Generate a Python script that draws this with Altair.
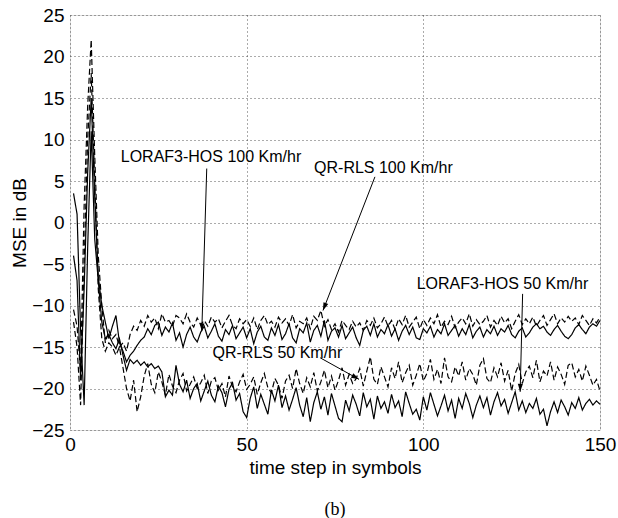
import math
import altair as alt
import pandas as pd

# ---- data ----
steps = list(range(1, 151))

qr_rls_100 = [
    -10.5, -12.5, -18, 2, 14, 22, 8, -4, -10, -14.5,
    -13, -14, -13.5, -15, -14.5, -15.5, -13.5, -12.5, -13, -11.8,
    -12.5, -11.2, -12, -11.5, -12.8, -11, -12, -11.8, -12.5, -11.2,
    -11.5, -12.2, -11, -12, -12.6, -11.5, -12.3, -11.8, -12.5, -11.4,
    -12, -11.6, -12.7, -11.9, -11.2, -12.4, -12.8, -11.6, -12.2, -11.7,
    -12.5, -11.5, -12.9, -11.8, -11.2, -12.3, -11.9, -12.6, -11.4, -12.1,
    -11.6, -12.4, -11.1, -12.7, -11.9, -12.2, -11.5, -12.8, -11.3, -11.8,
    -10.6, -12.5, -11.7, -12.9, -12.2, -13.2, -11.8, -12.4, -12.9, -11.9,
    -12.6, -12.1, -13, -11.8, -12.4, -11.5, -12.7, -12.2, -11.4, -12.5,
    -11.8, -12.9, -11.6, -12.3, -11.2, -12.6, -12, -11.4, -12.8, -11.7,
    -12.4, -11.5, -12.2, -11.1, -12.6, -11.9, -12.3, -11.3, -12.7, -12,
    -11.5, -12.2, -11, -12.5, -11.7, -12.3, -11.9, -11.2, -12.6, -11.8,
    -12.4, -11.3, -12.1, -11.6, -12.8, -11.9, -11.1, -12.3, -11.6, -12.2,
    -11.4, -12.5, -11.8, -11.2, -12.4, -11.7, -11, -12.2, -11.5, -12,
    -11.3, -11.9, -11.5, -12.3, -11.2, -11.8, -12.4, -11.6, -12.1, -11.4,
]

loraf3_hos_100 = [
    -4, -7, -19, -8, 6, 15, 3, -6.5, -10, -12,
    -14, -12.5, -11.2, -14.5, -15.5, -16.8, -16, -15.5, -14.8, -14.2,
    -13.8, -12.8, -13.5, -12.4, -12, -13.6, -12.6, -13.2, -12.1, -14.2,
    -13.3, -15, -13.5, -12.6, -13.8, -14.4, -13.2, -12.5, -13.9, -13.1,
    -12.2, -13.7, -14.3, -12.9, -13.5, -12.4, -14, -13.3, -12.6, -13.9,
    -12.8, -14.6, -13.2, -12.5, -13.8, -14.2, -12.7, -13.6, -12.3, -14.1,
    -13.4, -12.2, -13.9, -14.5, -12.8, -13.3, -12.1, -14.4, -13, -12.4,
    -13.7, -11.8, -14.2, -13.1, -12.7, -13.8, -12.4, -14, -13.3, -12.6,
    -13.9, -14.8, -13, -12.5, -13.6, -12.2, -13.8, -12.9, -13.4, -12.3,
    -13.7, -12.8, -14.2, -13.1, -12.4, -13.5, -12.6, -13.9, -14.1, -12.8,
    -13.3, -12.5, -13.8, -12.9, -13.4, -12.2, -13.6, -13, -12.4, -13.7,
    -12.8, -13.5, -12.3, -13.9, -13.1, -12.6, -13.8, -12.9, -13.4, -12.5,
    -13.6, -12.8, -13.2, -12.4, -13.5, -13.9, -13.1, -12.7, -13.8, -13.3,
    -12.6, -12.2, -12.8, -12.5, -13.2, -13.6, -12.9, -12.4, -13.1, -13.7,
    -14, -13.5, -12.7, -12.3, -12.9, -13.4, -12.6, -12.2, -12.5, -11.8,
]

qr_rls_50 = [
    -12, -15, -22, -5, 10, 18, 5, -8, -14, -15.5,
    -14.5, -15, -16, -15, -17.5, -20, -21.5, -19, -22.8, -21,
    -18.5, -17, -19.5, -20.5, -18, -19.2, -20.8, -18.3, -19.7, -20.5,
    -19, -18.2, -20.3, -19.5, -18.6, -20, -19.3, -18.4, -20.6, -19.1,
    -18.7, -20.2, -19.4, -21, -18.5, -19.8, -20.4, -19.2, -18.3, -20.1,
    -19.5, -18.6, -20.7, -19.3, -18.2, -19.9, -20.5, -18.8, -19.6, -21.2,
    -19.1, -18.4, -20, -17.6, -19.4, -20.6, -18.7, -19.8, -18.1, -20.3,
    -19.2, -17.8, -19.9, -18.5, -20.2, -19, -17.5, -19.6, -18.3, -19.4,
    -18.8, -17.6, -19.7, -17.9, -16.2, -18.9, -19.5, -17.4, -18.6, -19.8,
    -17.5, -18.8, -16.8, -19.3, -18.1, -17.2, -19.6, -18.4, -17, -19.1,
    -18.2, -16.5, -18.9, -17.7, -19.4, -16.3, -18.6, -19.2, -17.4, -18.5,
    -16.8, -19, -17.6, -18.3, -19.6, -17.2, -16.4, -18.8, -19.3, -17.5,
    -18.6, -16.9, -19.1, -17.8, -20.3, -18.2, -17.1, -19.4, -18, -17.3,
    -18.7, -16.6, -19.2, -17.9, -18.5, -16.8, -19, -17.4, -18.3, -19.5,
    -17.2, -16.9, -18.6, -17.7, -19.1, -17.3, -18.4, -19.6, -18.9, -20.3,
]

loraf3_hos_50 = [
    3.5, 1, -13, -22, -3, 11, -2, -7, -12, -14,
    -13.5, -14.5, -15.2, -14, -16, -17.8, -16.5, -17, -16.6, -17.2,
    -16.8, -17.4, -17, -17.6, -17.3, -18, -21, -20.2, -20.8, -17.2,
    -19.5, -20.4, -19, -21.2, -20, -19.4, -21.5, -20.3, -19.1, -20.8,
    -21.6, -19.7, -20.5, -22.2, -20.1, -19.3, -21.4, -20.6, -22.8, -23.5,
    -21.2, -19.8, -22.4, -20.7, -21.9, -23.1, -20.2, -21.5, -19.6, -22.3,
    -20.9, -22.6, -21.3, -19.9, -22, -23.4, -21.1, -24, -21.7, -20.4,
    -22.5, -21, -23.2, -20.6, -22.1, -23.6, -24, -21.4, -22.7, -20.8,
    -21.9, -23.3, -20.5, -22.2, -21.3, -23.7, -20.9, -22.4, -21.6, -23,
    -20.7, -22.3, -21.5, -23.4, -20.4, -21.8, -23.1, -22.5, -23.8, -21,
    -22.6, -20.5, -21.9, -23.3, -22.1, -20.8, -22.7, -21.4, -23.6, -21.2,
    -22.4, -20.6, -21.8, -23.5, -22, -20.9, -22.3, -21.1, -23.2, -21.6,
    -20.5, -22.1, -21.3, -23, -21.7, -20.4, -22.6, -21.5, -22.9, -21.8,
    -22.4, -21.2, -23.1, -22.5, -24.5, -22.8, -21.6, -22.9, -21.4, -22.2,
    -23.2, -21.7, -22.4, -21.1, -22.6, -21.8, -21.3, -22, -21.5, -21.9,
]

series_names = ["QR-RLS 100", "LORAF3-HOS 100", "QR-RLS 50", "LORAF3-HOS 50"]
series_methods = ["QR-RLS", "LORAF3-HOS", "QR-RLS", "LORAF3-HOS"]
series_values = [qr_rls_100, loraf3_hos_100, qr_rls_50, loraf3_hos_50]

# annotations: label text, label position, arrow start, arrow tip (data units)
ann_text = ["LORAF3-HOS 100 Km/hr", "QR-RLS 100 Km/hr", "QR-RLS 50 Km/hr", "LORAF3-HOS 50 Km/hr"]
ann_tx = [39.9, 88.7, 58.7, 122.4]
ann_ty = [7.95, 6.6, -15.7, -7.4]
ann_x0 = [38.7, 86.3, 70.8, 128.1]
ann_y0 = [6.5, 5.5, -16.3, -8.6]
ann_x1 = [37.3, 71.6, 81.8, 127.4]
ann_y1 = [-13.1, -10.6, -18.9, -20.4]

# ---- build tables ----
rows = []
for name, method, vals in zip(series_names, series_methods, series_values):
    for x, v in zip(steps, vals):
        rows.append({"step": x, "mse": v, "series": name, "method": method})
df = pd.DataFrame(rows)

W, H = 530, 415
X_DOM = [0, 150]
Y_DOM = [-25, 25]
kx = W / (X_DOM[1] - X_DOM[0])
ky = H / (Y_DOM[1] - Y_DOM[0])

angles = []
for x0, y0, x1, y1 in zip(ann_x0, ann_y0, ann_x1, ann_y1):
    dx = (x1 - x0) * kx
    dy = -(y1 - y0) * ky
    angles.append(math.degrees(math.atan2(-dx, dy)) % 360)

ann = pd.DataFrame({
    "text": ann_text, "tx": ann_tx, "ty": ann_ty,
    "x0": ann_x0, "y0": ann_y0, "x1": ann_x1, "y1": ann_y1, "angle": angles,
})

FONT = "Liberation Sans"

xscale = alt.Scale(domain=X_DOM, nice=False, zero=False)
yscale = alt.Scale(domain=Y_DOM, nice=False, zero=False)

xaxis = alt.Axis(values=[0, 50, 100, 150], title="time step in symbols",
                 ticks=False, domain=False, labelPadding=5, titlePadding=4,
                 labelFlush=False, labelOverlap=False,
                 labelFontSize=19, titleFontSize=19, labelFont=FONT, titleFont=FONT,
                 titleFontWeight="normal", labelColor="black", titleColor="black",
                 grid=True, gridColor="#444", gridDash=[1, 3], gridWidth=0.9)
yaxis = alt.Axis(values=list(range(-25, 30, 5)), title="MSE in dB",
                 ticks=False, domain=False, labelPadding=6, titlePadding=2,
                 labelFlush=False, labelOverlap=False,
                 labelFontSize=19, titleFontSize=19, labelFont=FONT, titleFont=FONT,
                 titleFontWeight="normal", labelColor="black", titleColor="black",
                 grid=True, gridColor="#444", gridDash=[1, 3], gridWidth=0.9)

lines = alt.Chart(df).mark_line(strokeWidth=1.2, color="black").encode(
    x=alt.X("step:Q", scale=xscale, axis=xaxis),
    y=alt.Y("mse:Q", scale=yscale, axis=yaxis),
    detail="series:N",
    strokeDash=alt.StrokeDash("method:N",
                              scale=alt.Scale(domain=["QR-RLS", "LORAF3-HOS"],
                                              range=[[6, 3], [1, 0]]),
                              legend=None),
    order="step:Q",
)

arrows = alt.Chart(ann).mark_rule(color="black", strokeWidth=1).encode(
    x=alt.X("x0:Q", scale=xscale), y=alt.Y("y0:Q", scale=yscale),
    x2="x1:Q", y2="y1:Q",
)

heads = alt.Chart(ann).mark_point(
    shape="M0,0L-0.32,-1L0.32,-1Z", filled=True, color="black", opacity=1, size=250
).encode(
    x=alt.X("x1:Q", scale=xscale), y=alt.Y("y1:Q", scale=yscale),
    angle=alt.Angle("angle:Q", scale=None),
)

labels = alt.Chart(ann).mark_text(font=FONT, fontSize=16, color="black",
                                  align="center", baseline="middle").encode(
    x=alt.X("tx:Q", scale=xscale), y=alt.Y("ty:Q", scale=yscale), text="text:N",
)

chart = alt.layer(lines, arrows, heads, labels).properties(
    width=W, height=H,
    padding={"left": 70, "top": 15, "right": 18, "bottom": 88},
    autosize=alt.AutoSizeParams(type="none"),
    title=alt.TitleParams("(b)", orient="bottom", anchor="middle", offset=24,
                          font="Liberation Serif", fontSize=18, fontWeight="normal",
                          color="black", baseline="top"),
).configure_view(stroke="black", strokeWidth=1.5).configure(background="white")

chart.save("out.html", embed_options={"renderer": "svg", "actions": False})
